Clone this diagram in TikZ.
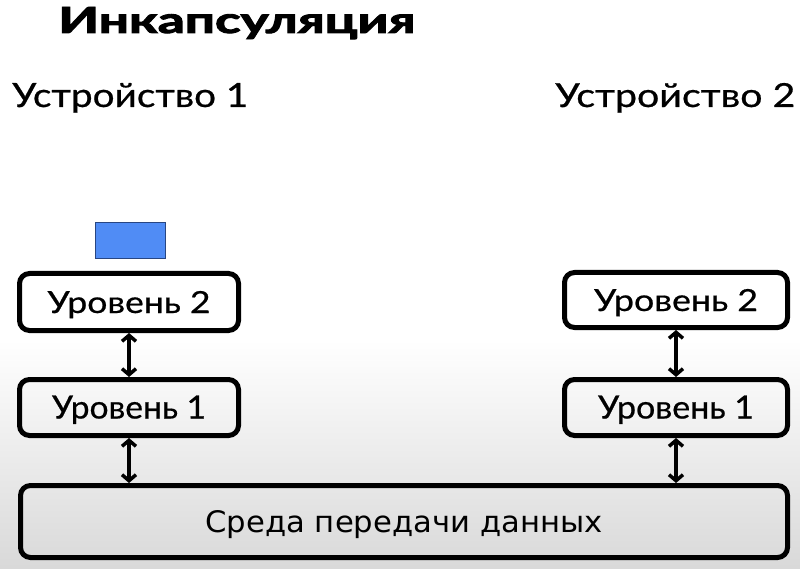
\documentclass[tikz,border=0pt]{standalone}
\usepackage{fontspec}
\setmainfont{Lato}[UprightFeatures={FakeBold=0.6}]
\newfontfamily\titlefont{Lato}[BoldFeatures={FakeBold=2.5}]
\newfontfamily\medfont{DejaVu Sans}
\usetikzlibrary{arrows.meta}
\definecolor{pktfill}{RGB}{80,140,245}
\definecolor{pktdraw}{RGB}{40,70,130}
\begin{document}
\begin{tikzpicture}[x=1pt,y=-1pt,
  layerbox/.style={draw=black, line width=5pt, rounded corners=10pt, minimum width=219pt,
    inner sep=0pt, text height=22pt, text depth=0pt},
  link/.style={line width=3.5pt, {Straight Barb[length=6pt,width=14pt]}-{Straight Barb[length=6pt,width=14pt]}},
  plain/.style={anchor=base west, inner sep=0pt}
]
\useasboundingbox (0,0) rectangle (800,569);
\fill[white] (0,0) rectangle (800,569);
\shade[top color=white, bottom color=black!15] (0,340) rectangle (800,569);

\node (title) [plain] at (58,33) {\resizebox{357pt}{26pt}{\titlefont\bfseries Инкапсуляция}};
\node (dev1) [plain] at (12,107) {\resizebox{236pt}{24pt}{Устройство 1}};
\node (dev2) [plain] at (555,107) {\resizebox{240pt}{24pt}{Устройство 2}};

\node (pkt) [draw=pktdraw, fill=pktfill, line width=1.5pt, minimum width=70pt, minimum height=36pt, inner sep=0pt] at (130.5,240.5) {};

\node (l2l) [layerbox, fill=white, minimum height=57pt] at (129,302) {\resizebox{163pt}{22pt}{Уровень 2}};
\node (l1l) [layerbox, minimum height=56pt] at (129,407.5) {\resizebox{154pt}{23pt}{Уровень 1}};
\node (l2r) [layerbox, fill=white, minimum width=223pt, minimum height=55pt] at (676,300) {\resizebox{164pt}{22pt}{Уровень 2}};
\node (l1r) [layerbox, minimum width=223pt, minimum height=56pt] at (676,407.5) {\resizebox{156pt}{23pt}{Уровень 1}};
\node (med) [layerbox, minimum width=767pt, minimum height=72pt] at (404,521.5) {\medfont\resizebox{397pt}{22pt}{Среда передачи данных}};

\draw[link] (l2l.south) -- (l1l.north);
\draw[link] (l1l.south) -- (l1l.south |- med.north);
\draw[link] (l2r.south) -- (l1r.north);
\draw[link] (l1r.south) -- (l1r.south |- med.north);
\end{tikzpicture}
\end{document}
